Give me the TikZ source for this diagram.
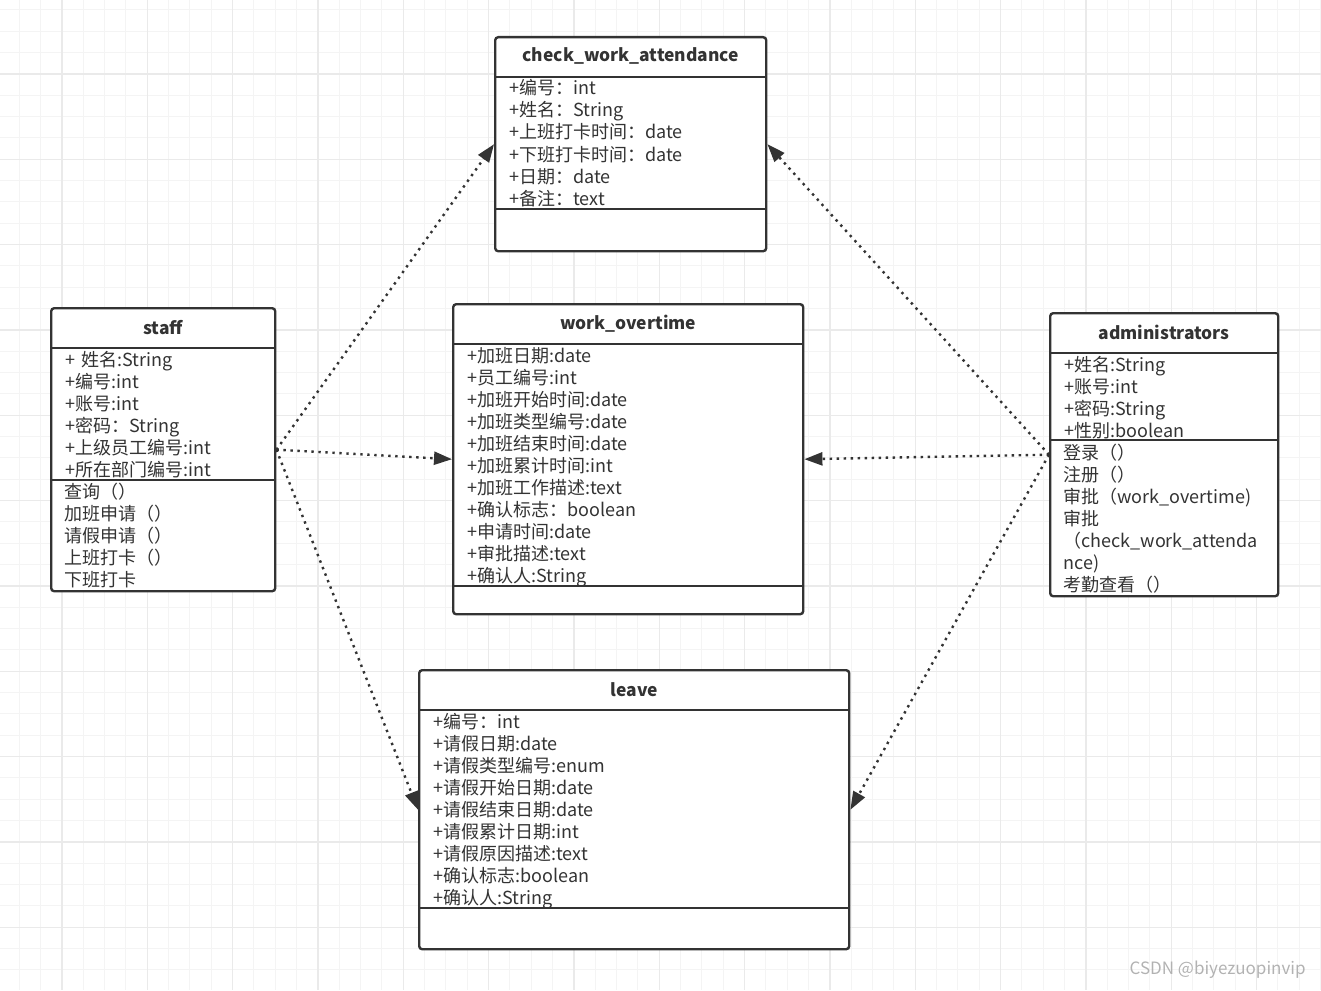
\documentclass[tikz,border=0pt]{standalone}
\usepackage{fontspec}
\setmainfont{Noto Sans CJK SC}
\usepackage{tikz}
\usetikzlibrary{positioning}
\usetikzlibrary{arrows.meta}
\definecolor{umlline}{HTML}{333333}
\definecolor{gridminor}{HTML}{F4F4F4}
\definecolor{gridmajor}{HTML}{EAEAEA}
\tikzset{
	x=0.5pt, y=-0.5pt, % ein Punkt des Bildes = ein halber pt
	classbox/.style={ % Rahmen einer Klasse
			draw=umlline,
			line width=1.2pt,
			rounded corners=1.5pt,
			fill=white,
			anchor=north west,
			inner sep=0pt
		},
	classname/.style={font=\bfseries\fontsize{8.7}{11}\selectfont, text=umlline, inner sep=0pt},
	members/.style={ % Attribute und Methoden
			anchor=base west,
			inner sep=0pt,
			align=left,
			text width=110pt,
			font=\fontsize{9}{11}\selectfont,
			text=umlline
		},
	divider/.style={draw=umlline, line width=1pt},
	link/.style={ % gepunktete Abhaengigkeit
			draw=umlline,
			line width=1.2pt,
			dash pattern=on 1.2pt off 2.3pt,
			-{Triangle[length=9pt,width=6.5pt]}
		}
}

\begin{document}
\begin{tikzpicture}
	\useasboundingbox (0,0) rectangle (1321,990);
	% Hintergrundraster
	\foreach \gx in {0,...,61} \draw[gridminor, line width=0.5pt] ({19.33+21.333*\gx},0) -- ++(0,990);
	\foreach \gy in {0,...,45} \draw[gridminor, line width=0.5pt] (0,{10+21.333*\gy}) -- ++(1321,0);
	\foreach \gx in {0,...,14} \draw[gridmajor, line width=0.6pt] ({62+85.333*\gx},0) -- ++(0,990);
	\foreach \gy in {0,...,10} \draw[gridmajor, line width=0.6pt] (0,{74+85.333*\gy}) -- ++(1321,0);

	% Klassen
	\node (check) [classbox, minimum width=135.5pt, minimum height=107pt] at (494,36) {};
	\node (staff) [classbox, minimum width=112pt, minimum height=141.5pt] at (50,307) {};
	\node (overtime) [classbox, minimum width=175pt, minimum height=155pt] at (452,303) {};
	\node (admin) [classbox, minimum width=114pt, minimum height=141.5pt] at (1049,312) {};
	\node (leave) [classbox, minimum width=215pt, minimum height=139.5pt] at (418,669) {};

	\draw[divider] (check.west |- 0,77) -- (check.east |- 0,77);
	\draw[divider] (check.west |- 0,209) -- (check.east |- 0,209);
	\draw[divider] (staff.west |- 0,348) -- (staff.east |- 0,348);
	\draw[divider] (staff.west |- 0,480) -- (staff.east |- 0,480);
	\draw[divider] (overtime.west |- 0,344) -- (overtime.east |- 0,344);
	\draw[divider] (overtime.west |- 0,586) -- (overtime.east |- 0,586);
	\draw[divider] (admin.west |- 0,353) -- (admin.east |- 0,353);
	\draw[divider] (admin.west |- 0,440) -- (admin.east |- 0,440);
	\draw[divider] (leave.west |- 0,710) -- (leave.east |- 0,710);
	\draw[divider] (leave.west |- 0,908) -- (leave.east |- 0,908);

	\node[classname] (checkname) at (check.north |- 0,56) {check\_work\_attendance};
	\node[classname] (staffname) at (staff.north |- 0,328) {staff};
	\node[classname] (overtimename) at (overtime.north |- 0,324) {work\_overtime};
	\node[classname] (adminname) at (admin.north |- 0,332) {administrators};
	\node[classname] (leavename) at (leave.north |- 0,690) {leave};

	\node[members] (checkattr) at (509,95) {+编号：int\\+姓名：String\\+上班打卡时间：date\\+下班打卡时间：date\\+日期：date\\+备注：text};
	\node[members] (staffattr) at (65,366) {+ 姓名:String\\+编号:int\\+账号:int\\+密码：String\\+上级员工编号:int\\+所在部门编号:int};
	\node[members] (staffops) at (64,498) {查询（）\\加班申请（）\\请假申请（）\\上班打卡（）\\下班打卡};
	\node[members, text width=170pt] (overtimeattr) at (467,362) {+加班日期:date\\+员工编号:int\\+加班开始时间:date\\+加班类型编号:date\\+加班结束时间:date\\+加班累计时间:int\\+加班工作描述:text\\+确认标志：boolean\\+申请时间:date\\+审批描述:text\\+确认人:String};
	\node[members] (adminattr) at (1064,371) {+姓名:String\\+账号:int\\+密码:String\\+性别:boolean};
	\node[members] (adminops) at (1063,459) {登录（）\\注册（）\\审批（work\_overtime)\\审批\\（check\_work\_attenda\\nce)\\考勤查看（）};
	\node[members, text width=200pt] (leaveattr) at (433,728) {+编号：int\\+请假日期:date\\+请假类型编号:enum\\+请假开始日期:date\\+请假结束日期:date\\+请假累计日期:int\\+请假原因描述:text\\+确认标志:boolean\\+确认人:String};

	% Abhaengigkeiten
	\draw[link] (staff.east) -- (check.west);
	\draw[link] (staff.east) -- (overtime.west);
	\draw[link] (staff.east) -- (leave.west);
	\draw[link] (admin.west) -- (check.east);
	\draw[link] (admin.west) -- (overtime.east);
	\draw[link] (admin.west) -- (leave.east);

	\node[anchor=east, inner sep=0pt, text=black!30, font=\fontsize{8.5}{10}\selectfont] (mark) at (1306,970) {CSDN @biyezuopinvip};
\end{tikzpicture}
\end{document}
